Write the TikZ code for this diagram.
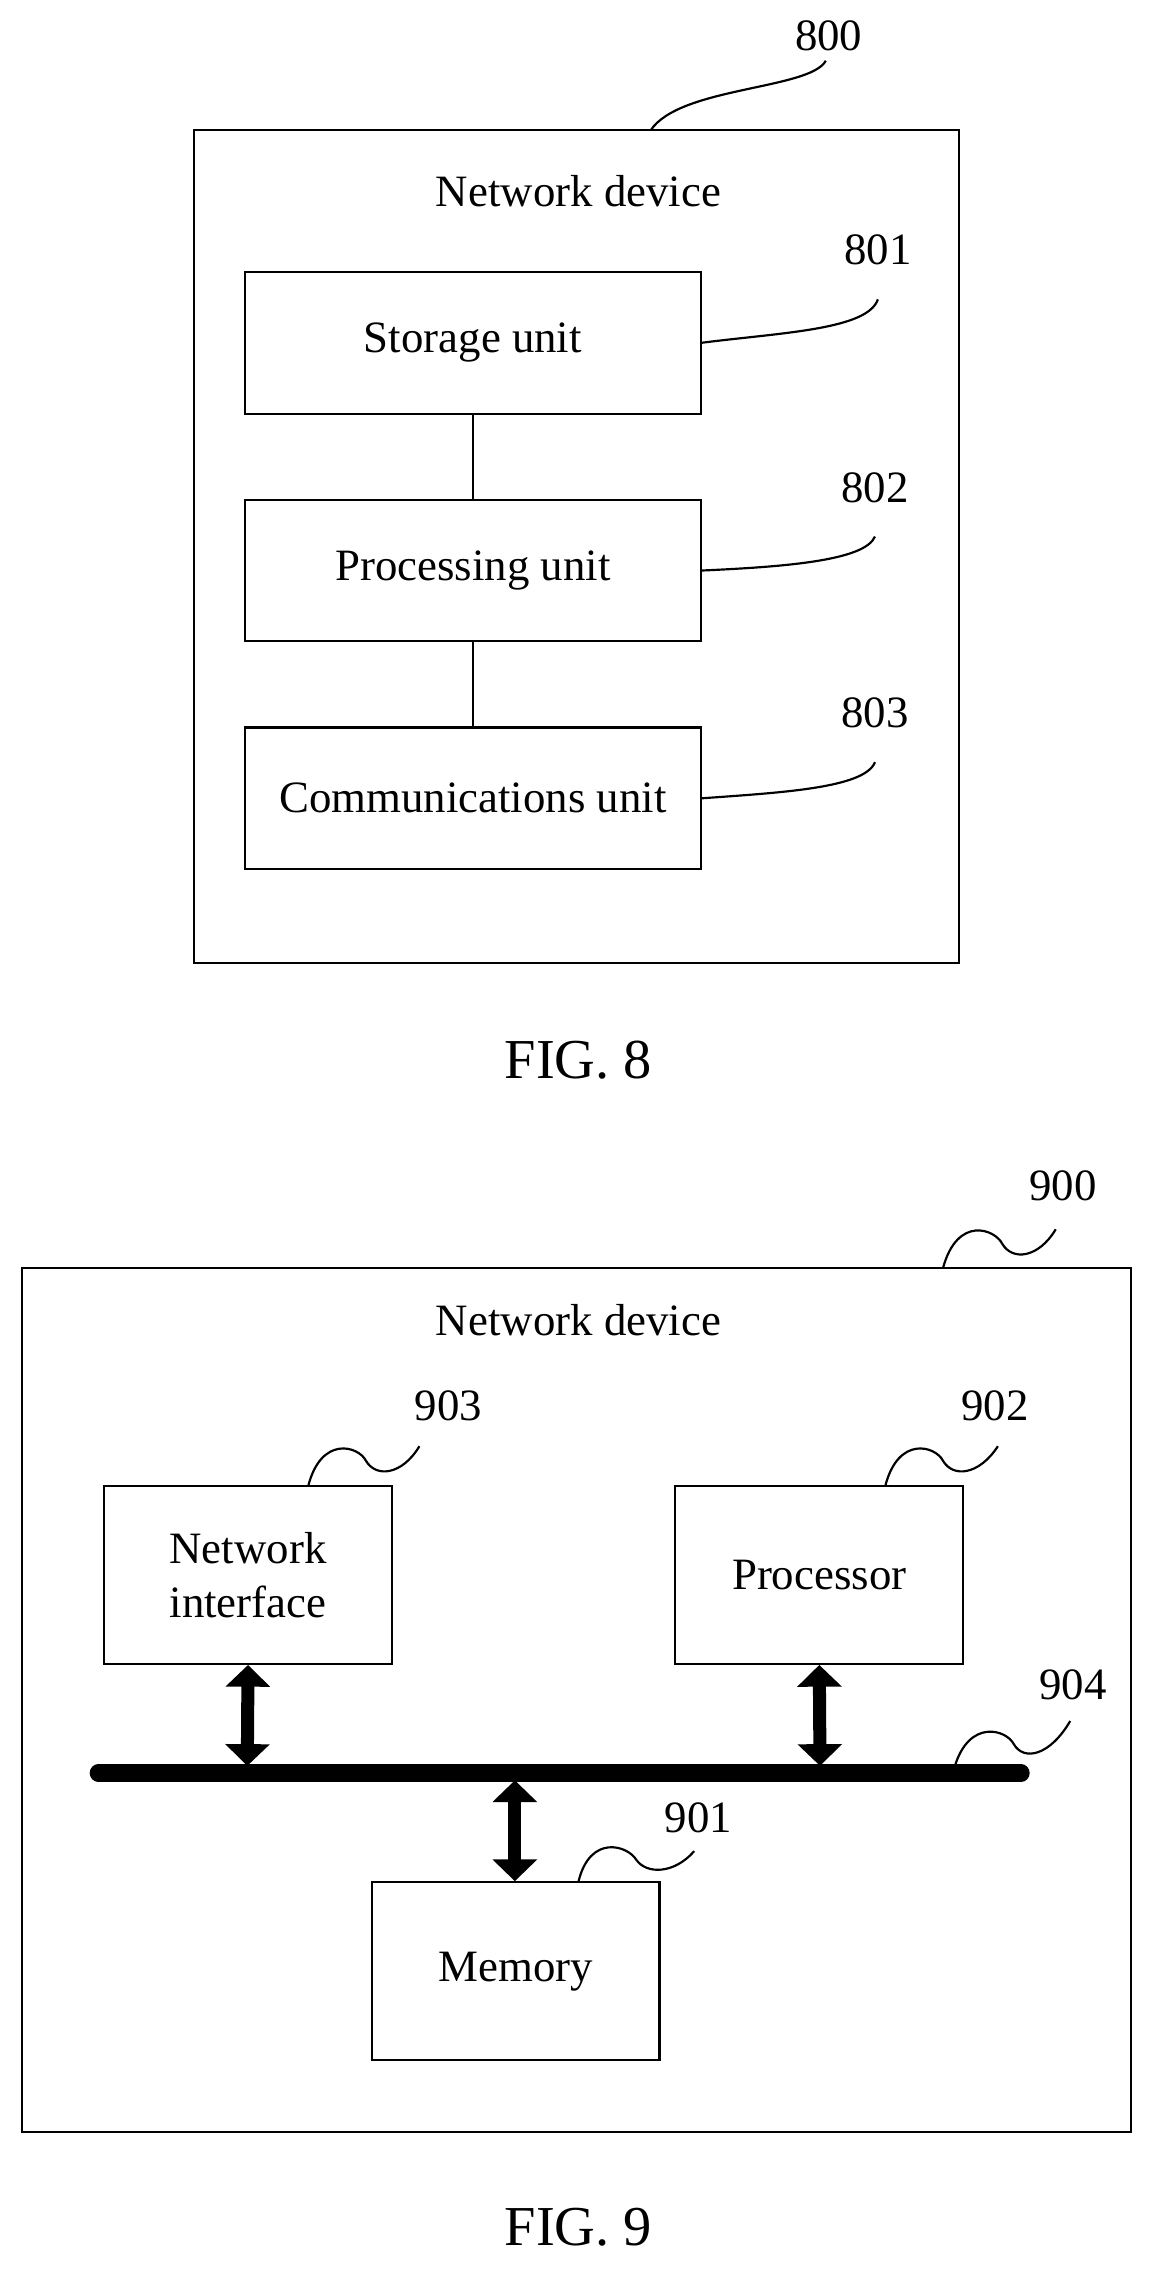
\documentclass[tikz,border=0pt]{standalone}
\usepackage{fontspec}
\setmainfont{Liberation Serif}
\usetikzlibrary{arrows.meta,positioning}
\tikzset{
  unit/.style={draw=black,line width=1.5pt,minimum width=315pt,minimum height=98pt,inner sep=0pt,font=\fontsize{31}{35}\selectfont},
  blk/.style={draw=black,line width=1.5pt,minimum width=199pt,minimum height=123pt,inner sep=0pt,align=center,font=\fontsize{31}{37}\selectfont},
  lbl/.style={font=\fontsize{31}{35}\selectfont,inner sep=2pt},
  figcap/.style={font=\fontsize{39}{44}\selectfont,inner sep=2pt},
  lead/.style={line width=1.5pt},
  busarrow/.style={line width=9pt,{Triangle[length=15pt,width=30pt]}-{Triangle[length=15pt,width=30pt]}}
}
\begin{document}
\begin{tikzpicture}[x=1pt,y=-1pt]
  \useasboundingbox (0,0) rectangle (800,1571);

  % FIG. 8
  \draw[line width=1.5pt] (134,90) rectangle (663,666);
  \node[lbl] (dev8) at (400,132) {Network device};
  \node[unit] (storage) at (327,237) {Storage unit};
  \node[unit] (proc) at (327,394.5) {Processing unit};
  \node[unit] (comm) at (327,552) {Communications unit};
  \draw[lead] (storage) -- (proc);
  \draw[lead] (proc) -- (comm);

  \node[lbl] (n800) at (573,25) {800};
  \node[lbl] (n801) at (607,173) {801};
  \node[lbl] (n802) at (605,337) {802};
  \node[lbl] (n803) at (605,493) {803};
  \coordinate (c800) at (450,90);
  \draw[lead] (c800) .. controls (470,60) and (560,62) .. (571,42);
  \draw[lead] (storage.east) .. controls (540,230) and (600,228) .. (607,207);
  \draw[lead] (proc.east) .. controls (540,392) and (598,388) .. (605,371);
  \draw[lead] (comm.east) .. controls (540,548) and (598,545) .. (605,527);
  \node[figcap] (fig8) at (400,733) {FIG. 8};

  % FIG. 9
  \draw[line width=1.5pt] (15,877) rectangle (782,1474);
  \node[lbl] (dev9) at (400,913) {Network device};
  \node[blk] (netif) at (171.5,1089) {Network\\interface};
  \node[blk] (cpu) at (566.5,1089) {Processor};
  \node[blk] (mem) at (356.5,1363) {Memory};
  \coordinate (busl) at (68,1226);
  \coordinate (busr) at (706,1226);
  \draw[line width=12pt,line cap=round] (busl) -- (busr);
  \draw[busarrow] (netif.south) -- (171,1221);
  \draw[busarrow] (cpu.south) -- (567,1221);
  \draw[busarrow] (356,1231) -- (mem.north -| 356,0);

  \node[lbl] (n900) at (735,820) {900};
  \node[lbl] (n903) at (310,972) {903};
  \node[lbl] (n902) at (688,972) {902};
  \node[lbl] (n904) at (742,1165) {904};
  \node[lbl] (n901) at (483,1257) {901};
  \draw[lead] (652,877) .. controls (662,840) and (688,850) .. (693,860) .. controls (700,872) and (718,870) .. (730,850);
  \draw[lead] (213,1028) .. controls (222,992) and (248,1000) .. (253,1010) .. controls (260,1022) and (278,1020) .. (290,1000);
  \draw[lead] (612,1028) .. controls (621,992) and (647,1000) .. (652,1010) .. controls (659,1022) and (677,1020) .. (690,1000);
  \draw[lead] (660,1222) .. controls (670,1188) and (696,1196) .. (701,1206) .. controls (708,1218) and (726,1214) .. (740,1190);
  \draw[lead] (400,1301) .. controls (408,1268) and (434,1276) .. (440,1286) .. controls (447,1296) and (466,1296) .. (480,1280);
  \node[figcap] (fig9) at (400,1540) {FIG. 9};
\end{tikzpicture}
\end{document}
